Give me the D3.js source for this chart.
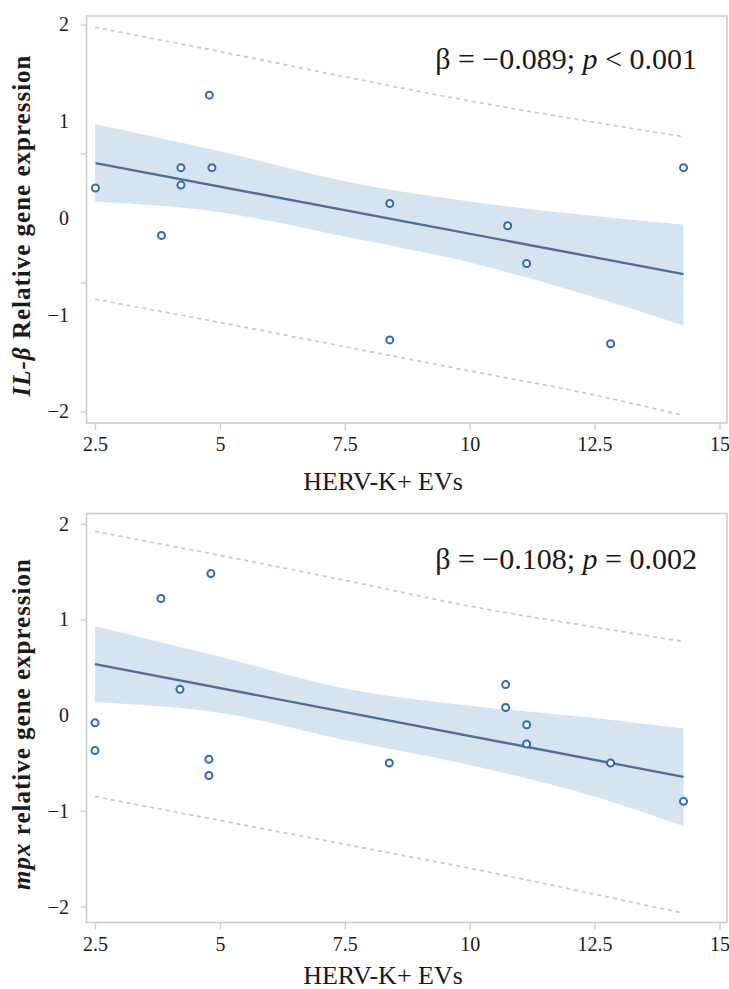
<!DOCTYPE html>
<html>
<head>
<meta charset="utf-8">
<script src="https://cdn.jsdelivr.net/npm/d3@7"></script>
<style>
  html, body { margin: 0; padding: 0; background: #fff; }
  svg { display: block; }
  text { font-family: "Liberation Serif", "Times New Roman", serif; }
</style>
</head>
<body>
<svg id="chart" width="729" height="989"></svg>
<script>
// Shared axis values
const xTickValues = [2.5, 5, 7.5, 10, 12.5, 15];
const yTickLabelValues = [2, 1, 0, -1, -2];
const xAxisTitle = "HERV-K+ EVs";

// Grid of exposure values used for the confidence / prediction envelopes
const bandX = [2.5, 5, 7.5, 10, 12.5, 14.28];

// IL-β panel
const ilbX = [2.51, 3.83, 4.22, 4.22, 4.79, 4.84, 8.40, 8.40, 10.76, 11.14, 12.82, 14.28];
const ilbY = [0.31, -0.18, 0.52, 0.34, 1.27, 0.52, 0.15, -1.26, -0.08, -0.47, -1.30, 0.52];
const ilbFitX = [2.51, 14.28];
const ilbFitY = [0.567, -0.58];
const ilbCiUpper = [0.97, 0.69, 0.38, 0.17, 0.02, -0.07];
const ilbCiLower = [0.17, 0.06, -0.19, -0.46, -0.82, -1.11];
const ilbPiUpper = [1.97, 1.72, 1.46, 1.21, 0.99, 0.84];
const ilbPiLower = [-0.84, -1.08, -1.33, -1.58, -1.83, -2.04];
const ilbTickMarks = [2, 0.667, -0.667, -2];

// mpx panel
const mpxX = [2.50, 2.50, 3.82, 4.20, 4.82, 4.78, 4.78, 8.39, 10.72, 10.72, 11.14, 11.14, 12.82, 14.28];
const mpxY = [-0.08, -0.37, 1.22, 0.27, 1.48, -0.46, -0.63, -0.50, 0.32, 0.08, -0.10, -0.30, -0.50, -0.90];
const mpxFitX = [2.50, 14.28];
const mpxFitY = [0.533, -0.645];
const mpxCiUpper = [0.93, 0.61, 0.28, 0.10, -0.03, -0.14];
const mpxCiLower = [0.136, 0.025, -0.26, -0.52, -0.85, -1.16];
const mpxPiUpper = [1.92, 1.67, 1.41, 1.14, 0.92, 0.77];
const mpxPiLower = [-0.85, -1.10, -1.35, -1.60, -1.87, -2.07];
const mpxTickMarks = [2, 1, -1, -2];

const svg = d3.select("#chart");

const COLORS = {
  frame: "#c6cfd8",
  band: "#d6e4f0",
  fit: "#4e6f95",
  point: "#2f68c4",
  pi: "#c4c4ec",
  text: "#1a1a1a"
};

function drawPanel(cfg) {
  const g = svg.append("g");
  const { left, right, top, bottom } = cfg.frame;

  const x = d3.scaleLinear().domain([2.5, 15]).range([95, 719.5]);
  const y = d3.scaleLinear().domain([-2, 2]).range([cfg.yMinus2, cfg.yPlus2]);

  // Confidence band
  const area = d3.area()
    .x((d, i) => x(bandX[i]))
    .y0((d, i) => y(cfg.ciLower[i]))
    .y1((d, i) => y(cfg.ciUpper[i]))
    .curve(d3.curveMonotoneX);
  g.append("path")
    .datum(bandX)
    .attr("d", area)
    .attr("fill", COLORS.band);

  // Prediction limits
  const piLine = vals => d3.line()
    .x((d, i) => x(bandX[i]))
    .y((d, i) => y(vals[i]))
    .curve(d3.curveMonotoneX)(bandX);
  [cfg.piUpper, cfg.piLower].forEach(vals => {
    g.append("path")
      .attr("d", piLine(vals))
      .attr("fill", "none")
      .attr("stroke", COLORS.pi)
      .attr("stroke-width", 1.7)
      .attr("stroke-dasharray", "4 4");
  });

  // Fitted line
  g.append("path")
    .attr("d", d3.line().x((d, i) => x(cfg.fitX[i])).y((d, i) => y(cfg.fitY[i]))(cfg.fitX))
    .attr("fill", "none")
    .attr("stroke", COLORS.fit)
    .attr("stroke-width", 2.4);

  // Observations
  g.append("g").selectAll("circle")
    .data(cfg.xs)
    .join("circle")
    .attr("cx", d => x(d))
    .attr("cy", (d, i) => y(cfg.ys[i]))
    .attr("r", 3.5)
    .attr("fill", "#fff")
    .attr("stroke", COLORS.point)
    .attr("stroke-width", 2);

  // Frame
  g.append("rect")
    .attr("x", left).attr("y", top)
    .attr("width", right - left).attr("height", bottom - top)
    .attr("fill", "none")
    .attr("stroke", COLORS.frame)
    .attr("stroke-width", 1.6);

  // Y axis: tick marks
  const yTicks = g.append("g").attr("transform", `translate(${left},0)`)
    .call(d3.axisLeft(y).tickValues(cfg.tickMarks).tickSize(6).tickFormat(""));
  yTicks.select(".domain").remove();
  yTicks.selectAll("line").attr("stroke", COLORS.frame).attr("stroke-width", 1.4);

  // Y axis: labels
  const yLabels = g.append("g").attr("transform", `translate(${left - 17.5},0)`)
    .call(d3.axisLeft(y).tickValues(yTickLabelValues).tickSize(0).tickPadding(0)
      .tickFormat(d => d < 0 ? "\u2212" + Math.abs(d) : String(d)));
  yLabels.select(".domain").remove();
  yLabels.selectAll("text")
    .style("font-family", "'Liberation Serif', 'Times New Roman', serif")
    .style("font-size", "20px")
    .attr("fill", COLORS.text);

  // X axis
  const xAxis = g.append("g").attr("transform", `translate(0,${bottom})`)
    .call(d3.axisBottom(x).tickValues(xTickValues).tickSize(7).tickPadding(7)
      .tickFormat(d => String(d)));
  xAxis.select(".domain").remove();
  xAxis.selectAll("line").attr("stroke", COLORS.frame).attr("stroke-width", 1.4);
  xAxis.selectAll("text")
    .style("font-family", "'Liberation Serif', 'Times New Roman', serif")
    .style("font-size", "20px")
    .attr("fill", COLORS.text);

  // X axis title
  g.append("text")
    .attr("x", 383).attr("y", cfg.xTitleY)
    .attr("text-anchor", "middle")
    .style("font-size", "26px")
    .attr("fill", COLORS.text)
    .text(xAxisTitle);

  // Y axis title
  const yt = g.append("text")
    .attr("transform", `translate(30,${(top + bottom) / 2 + 6}) rotate(-90)`)
    .attr("text-anchor", "middle")
    .style("font-size", "25px")
    .style("font-weight", "bold")
    .style("letter-spacing", "1px")
    .attr("fill", COLORS.text);
  yt.append("tspan").style("font-style", "italic").text(cfg.gene);
  yt.append("tspan").text(cfg.yTitleRest);

  // Regression statistics
  const st = g.append("text")
    .attr("x", 697).attr("y", cfg.statY)
    .attr("text-anchor", "end")
    .style("font-size", "30px")
    .attr("fill", COLORS.text);
  st.append("tspan").text(`\u03b2 = ${cfg.beta}; `);
  st.append("tspan").style("font-style", "italic").text("p");
  st.append("tspan").text(` ${cfg.pText}`);
}

drawPanel({
  frame: { left: 86.5, right: 727, top: 16, bottom: 423 },
  yPlus2: 24.5, yMinus2: 411.5,
  xTitleY: 490, statY: 69,
  xs: ilbX, ys: ilbY,
  fitX: ilbFitX, fitY: ilbFitY,
  ciUpper: ilbCiUpper, ciLower: ilbCiLower,
  piUpper: ilbPiUpper, piLower: ilbPiLower,
  tickMarks: ilbTickMarks,
  gene: "IL-\u03b2",
  yTitleRest: " Relative gene expression",
  beta: "\u22120.089",
  pText: "< 0.001"
});

drawPanel({
  frame: { left: 86.5, right: 727, top: 513.5, bottom: 922.5 },
  yPlus2: 523.8, yMinus2: 906.6,
  xTitleY: 984, statY: 569,
  xs: mpxX, ys: mpxY,
  fitX: mpxFitX, fitY: mpxFitY,
  ciUpper: mpxCiUpper, ciLower: mpxCiLower,
  piUpper: mpxPiUpper, piLower: mpxPiLower,
  tickMarks: mpxTickMarks,
  gene: "mpx",
  yTitleRest: " relative  gene expression",
  beta: "\u22120.108",
  pText: "= 0.002"
});
</script>
</body>
</html>
